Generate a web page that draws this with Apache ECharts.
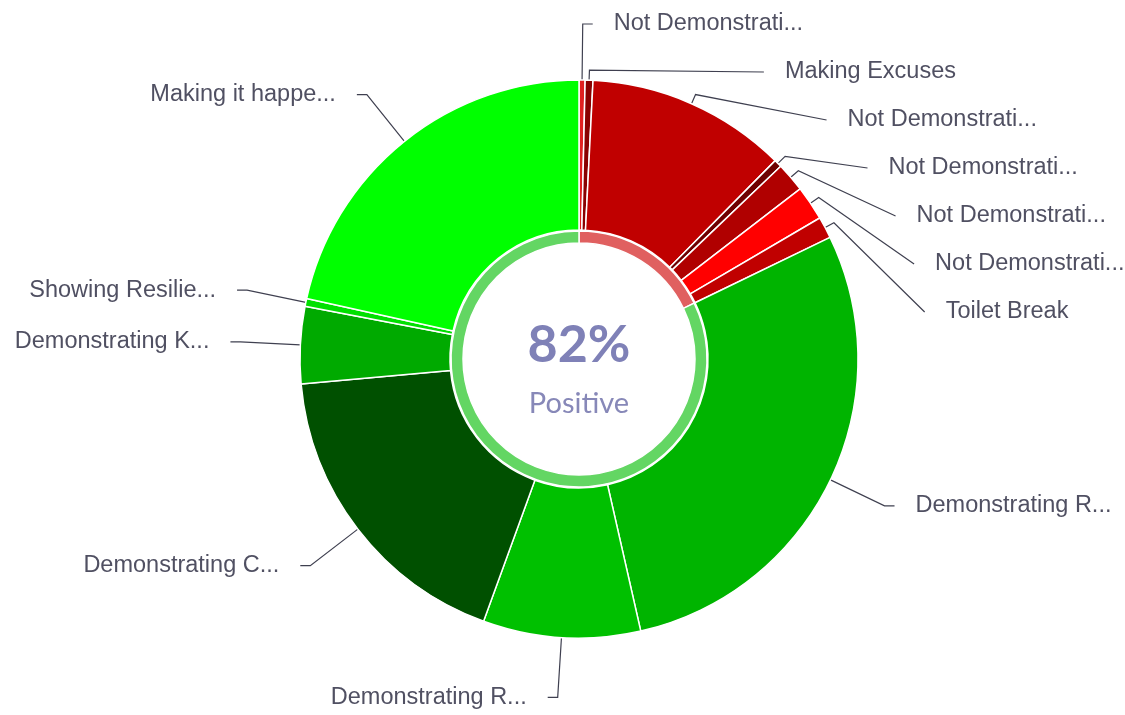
<!DOCTYPE html>
<html>
<head>
<meta charset="utf-8">
<script src="https://cdn.jsdelivr.net/npm/echarts@6/dist/echarts.min.js"></script>
<style>
html,body{margin:0;padding:0;background:#ffffff;}
#chart{width:1125px;height:715px;}
</style>
</head>
<body>
<div id="chart"></div>
<script>
// ---- data (clockwise from 12 o'clock) ----
const categories = [
  'Not Demonstrati...', 'Making Excuses', 'Not Demonstrati...', 'Not Demonstrati...',
  'Not Demonstrati...', 'Not Demonstrati...', 'Toilet Break',
  'Demonstrating R...', 'Demonstrating R...', 'Demonstrating C...',
  'Demonstrating K...', 'Showing Resilie...', 'Making it happe...'
];
const values = [0.35, 0.45, 11.6, 0.45, 1.7, 2.0, 1.25, 28.6, 9.1, 18.0, 4.45, 0.45, 21.5];
const polarity = ['neg', 'neg', 'neg', 'neg', 'neg', 'neg', 'neg', 'pos', 'pos', 'pos', 'pos', 'pos', 'pos'];
const ringCategories = ['Negative', 'Positive'];
const centerSubtitle = 'Positive';

// ---- styles ----
const sliceColors = ['#e02020', '#8a0000', '#c00000', '#6e0000', '#b00000', '#ff0000', '#c00000',
                     '#00b400', '#00c000', '#005000', '#00aa00', '#00e000', '#00ff00'];
const ringColors = ['#e06060', '#63d663'];

const CX = 579, CY = 359, TOPOFF = -4;
const STUB = 10, GAP = 21;

const negSum = values.reduce((s, v, i) => s + (polarity[i] === 'neg' ? v : 0), 0);
const posSum = values.reduce((s, v, i) => s + (polarity[i] === 'pos' ? v : 0), 0);
const ringValues = [negSum, posSum];
const pct = Math.round(posSum / (posSum + negSum) * 100) + '%';

const chart = echarts.init(document.getElementById('chart'), null, {renderer: 'canvas'});

function labelLayout(p) {
  const pts = p.labelLinePoints;
  if (!pts || pts.length < 3) return {};
  const p0 = pts[0], p1 = pts[1], p2 = pts[2];
  const dir = p2[0] >= p1[0] ? 1 : -1;
  const ax = p0[0] - CX, ay = p0[1] - CY, bx = p1[0] - CX, by = p1[1] - CY;
  const la = Math.hypot(ax, ay), lb = Math.hypot(bx, by);
  const s = (ax * by - ay * bx) / (la * lb);
  let out;
  if (Math.abs(s) < 0.02) {
    out = [p0.slice(), p1.slice(), p2.slice()];
  } else {
    const stub = [p0[0] + ax / la * STUB, p0[1] + ay / la * STUB];
    out = [p0.slice(), stub, p2.slice()];
  }
  return { dx: dir * GAP, labelLinePoints: out };
}

chart.setOption({
  backgroundColor: '#ffffff',
  animation: false,
  series: [
    {
      type: 'pie',
      top: TOPOFF,
      bottom: -10,
      center: [CX, CY - TOPOFF],
      radius: [129, 279],
      startAngle: 90,
      clockwise: true,
      avoidLabelOverlap: true,
      itemStyle: { borderColor: '#ffffff', borderWidth: 1.5 },
      label: {
        show: true,
        position: 'outer',
        alignTo: 'none',
        distanceToLabelLine: 0,
        overflow: 'none',
        fontFamily: 'Liberation Sans, Arial, sans-serif',
        fontSize: 23.5,
        lineHeight: 46,
        backgroundColor: 'rgba(255,255,255,0)',
        color: '#505062'
      },
      labelLine: {
        show: true,
        length: 60,
        length2: 10,
        smooth: false,
        minTurnAngle: 0,
        maxSurfaceAngle: 0,
        lineStyle: { color: '#3f4050', width: 1.2 }
      },
      labelLayout: labelLayout,
      emphasis: { disabled: true },
      data: categories.map((n, i) => ({ name: n, value: values[i], itemStyle: { color: sliceColors[i] } }))
    },
    {
      type: 'pie',
      top: TOPOFF,
      bottom: -10,
      center: [CX, CY - TOPOFF],
      radius: [116, 128],
      startAngle: 90,
      clockwise: true,
      silent: true,
      label: { show: false },
      labelLine: { show: false },
      itemStyle: { borderColor: '#ffffff', borderWidth: 1.5 },
      data: ringCategories.map((n, i) => ({ name: n, value: ringValues[i], itemStyle: { color: ringColors[i] } }))
    }
  ],
  graphic: [
    {
      type: 'text', x: CX, y: 345, silent: true,
      style: { text: pct, align: 'center', verticalAlign: 'middle',
               font: 'bold 52px Lato, "Open Sans", sans-serif', fill: '#7f81b7' }
    },
    {
      type: 'text', x: CX, y: 404, silent: true,
      style: { text: centerSubtitle, align: 'center', verticalAlign: 'middle',
               font: '29px Lato, "Open Sans", sans-serif', fill: '#8788b8' }
    }
  ]
});
</script>
</body>
</html>
